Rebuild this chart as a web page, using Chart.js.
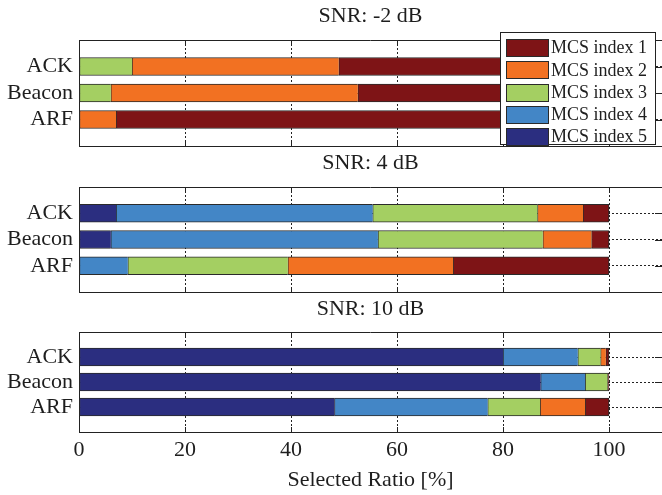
<!DOCTYPE html>
<html>
<head>
<meta charset="utf-8">
<script src="https://cdn.jsdelivr.net/npm/chart.js@4.4.1/dist/chart.umd.min.js"></script>
<style>
  html, body { margin: 0; padding: 0; background: #fff; overflow: hidden; }
  #wrap { position: relative; width: 662px; height: 495px; }
  #wrap canvas { position: absolute; left: 0; top: 0; }
</style>
</head>
<body>
<div id="wrap">
  <canvas id="snrLow" width="662" height="495"></canvas>
  <canvas id="snrMid" width="662" height="495"></canvas>
  <canvas id="snrHigh" width="662" height="495"></canvas>
</div>
<script>
const categories = ['ACK', 'Beacon', 'ARF']
const mcsLabels = ['MCS index 1', 'MCS index 2', 'MCS index 3', 'MCS index 4', 'MCS index 5']
const mcsColors = ['#7e1416', '#f27122', '#a4cf62', '#4386c6', '#2b2e80']
const xTicks = [0, 20, 40, 60, 80, 100]

// selected ratio [%] per frame type (ACK, Beacon, ARF)
// SNR -2 dB
const lowMcs1 = [51, 47.4, 93]
const lowMcs2 = [39, 46.6, 7]
const lowMcs3 = [10, 6, 0]
const lowMcs4 = [0, 0, 0]
const lowMcs5 = [0, 0, 0]
// SNR 4 dB
const midMcs1 = [4.9, 3.3, 29.4]
const midMcs2 = [8.6, 9.2, 31.2]
const midMcs3 = [31.1, 31.1, 30.2]
const midMcs4 = [48.4, 50.4, 9.2]
const midMcs5 = [7, 6, 0]
// SNR 10 dB
const highMcs1 = [0.6, 0.3, 4.5]
const highMcs2 = [1.0, 0, 8.5]
const highMcs3 = [4.3, 4.2, 9.9]
const highMcs4 = [14.1, 8.4, 28.9]
const highMcs5 = [80, 87.1, 48.2]

const frameColor = '#222'
const textColor = '#1e1e1e'
const serif = "'Liberation Serif', 'Times New Roman', serif"

// box on top + inward ticks like matlab
const boxFrame = {
  id: 'boxFrame',
  beforeDatasetsDraw(chart) {
    const { ctx, chartArea: a, scales } = chart
    ctx.save()
    ctx.strokeStyle = frameColor
    ctx.lineWidth = 1
    ctx.beginPath()
    const top = Math.round(a.top) + 0.5
    ctx.moveTo(a.left, top)
    ctx.lineTo(a.right, top)
    scales.x.ticks.forEach((t) => {
      const px = Math.round(scales.x.getPixelForValue(t.value)) + 0.5
      ctx.moveTo(px, a.top)
      ctx.lineTo(px, a.top + 5)
      ctx.moveTo(px, a.bottom)
      ctx.lineTo(px, a.bottom - 5)
    })
    categories.forEach((c, i) => {
      const py = Math.round(scales.y.getPixelForValue(i + 1)) + 0.5
      ctx.moveTo(a.right - 7, py)
      ctx.lineTo(a.right, py)
    })
    ctx.stroke()
    ctx.restore()
  }
}

const boxLegend = {
  id: 'boxLegend',
  afterDatasetsDraw(chart) {
    const ctx = chart.ctx
    const items = chart.data.datasets.slice().reverse()
    ctx.save()
    ctx.fillStyle = '#fff'
    ctx.strokeStyle = frameColor
    ctx.lineWidth = 1
    ctx.fillRect(500.5, 32.5, 155, 112)
    ctx.strokeRect(500.5, 32.5, 155, 112)
    ctx.font = '18px ' + serif
    ctx.textBaseline = 'middle'
    items.forEach((ds, i) => {
      const cy = 47.5 + i * 22.3
      ctx.fillStyle = ds.backgroundColor
      ctx.fillRect(506.5, Math.round(cy - 8.5) + 0.5, 42, 17)
      ctx.strokeStyle = '#2a2a2a'
      ctx.strokeRect(506.5, Math.round(cy - 8.5) + 0.5, 42, 17)
      ctx.fillStyle = textColor
      ctx.fillText(ds.label, 551, cy + 1)
    })
    ctx.restore()
  }
}

function makeChart(id, title, series, titlePad, padBottom, showX, plugins) {
  // stack from MCS 5 (left) to MCS 1 (right)
  const datasets = []
  for (let i = series.length - 1; i >= 0; i--) {
    datasets.push({
      label: mcsLabels[i],
      data: [null, ...series[i], null],
      backgroundColor: mcsColors[i],
      borderColor: '#2a2a2a',
      borderWidth: { top: 1, bottom: 1, left: 1, right: i === 0 ? 1 : 0 },
      borderSkipped: false,
      barThickness: 18
    })
  }
  return new Chart(document.getElementById(id), {
    type: 'bar',
    data: { labels: ['', ...categories, ''], datasets: datasets },
    plugins: plugins,
    options: {
      indexAxis: 'y',
      responsive: false,
      animation: false,
      layout: { padding: { top: 0, left: 0, right: 0, bottom: padBottom } },
      plugins: {
        legend: { display: false },
        tooltip: { enabled: false },
        title: {
          display: true,
          text: title,
          fullSize: false,
          color: textColor,
          font: { family: serif, size: 22, weight: 'normal' },
          padding: titlePad
        }
      },
      scales: {
        x: {
          stacked: true,
          min: 0,
          max: 110,
          afterBuildTicks: (axis) => { axis.ticks = xTicks.map((v) => ({ value: v })) },
          afterFit: (scale) => { scale.paddingLeft = 0; scale.paddingRight = 0 },
          grid: { color: '#222', lineWidth: 1, drawTicks: false },
          border: { display: true, color: frameColor, width: 1, dash: [2, 2] },
          ticks: {
            display: showX,
            autoSkip: false,
            padding: 5,
            color: textColor,
            font: { family: serif, size: 22 }
          },
          title: {
            display: showX,
            text: 'Selected Ratio [%]',
            color: textColor,
            padding: { top: 0, bottom: 0 },
            font: { family: serif, size: 22, lineHeight: 1.05 }
          }
        },
        y: {
          stacked: true,
          offset: false,
          afterFit: (scale) => { scale.width = 79; scale.paddingTop = 0; scale.paddingBottom = 0 },
          grid: { color: '#222', lineWidth: 1, drawTicks: false, offset: false },
          border: { display: true, color: frameColor, width: 1, dash: [2, 2] },
          ticks: {
            autoSkip: false,
            padding: 6,
            color: textColor,
            font: { family: serif, size: 22 }
          }
        }
      }
    }
  })
}

makeChart('snrLow', 'SNR: -2 dB',
  [lowMcs1, lowMcs2, lowMcs3, lowMcs4, lowMcs5],
  { top: 3.3, bottom: 10.3 }, 349, false, [boxFrame, boxLegend])
makeChart('snrMid', 'SNR: 4 dB',
  [midMcs1, midMcs2, midMcs3, midMcs4, midMcs5],
  { top: 150.3, bottom: 10.3 }, 203, false, [boxFrame])
makeChart('snrHigh', 'SNR: 10 dB',
  [highMcs1, highMcs2, highMcs3, highMcs4, highMcs5],
  { top: 295.8, bottom: 9.8 }, 3.5, true, [boxFrame])
</script>
</body>
</html>
